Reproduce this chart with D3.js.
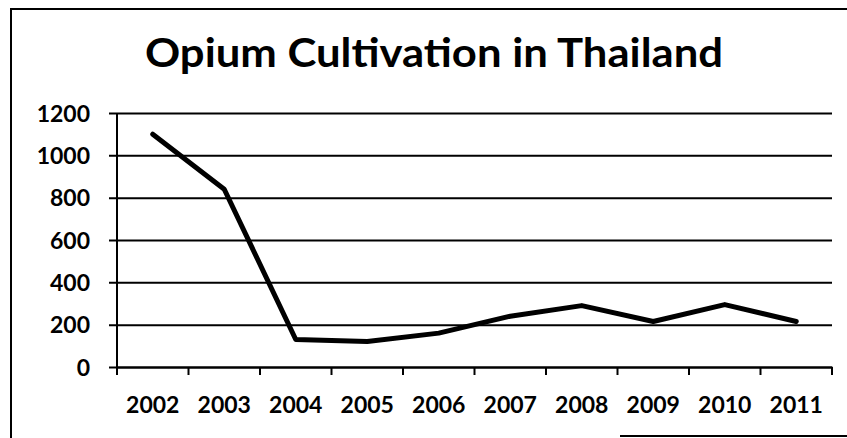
<!DOCTYPE html>
<html>
<head>
<meta charset="utf-8">
<script src="https://cdn.jsdelivr.net/npm/d3@7"></script>
<style>
  html, body { margin: 0; padding: 0; background: #fff; }
  svg { display: block; }
  text { font-family: Lato, "Open Sans", sans-serif; font-weight: bold; fill: #000; }
</style>
</head>
<body>
<svg id="chart" width="847" height="438"></svg>
<script>
const title = "Opium Cultivation in Thailand";
const years = ["2002","2003","2004","2005","2006","2007","2008","2009","2010","2011"];
const hectares = [1100, 840, 130, 120, 160, 240, 290, 215, 295, 215];
const yTicks = [0, 200, 400, 600, 800, 1000, 1200];

const W = 847, H = 438;
const svg = d3.select("#chart");
svg.append("rect").attr("width", W).attr("height", H).attr("fill", "#fff");

// outer frame (scan border)
svg.append("path")
  .attr("d", `M11,${H} L11,9 L${W},9`)
  .attr("fill", "none").attr("stroke", "#000").attr("stroke-width", 2);
svg.append("line").attr("x1", 620).attr("x2", W).attr("y1", 436).attr("y2", 436)
  .attr("stroke", "#000").attr("stroke-width", 2);

const m = { left: 117, right: 832, top: 113, bottom: 367 };

const x = d3.scaleBand().domain(years).range([m.left, m.right]).padding(0);
const y = d3.scaleLinear().domain([0, 1200]).range([m.bottom, m.top]);

// Title
svg.append("text")
  .attr("x", 434).attr("y", 67)
  .attr("text-anchor", "middle")
  .style("font-size", "40px")
  .attr("textLength", 578).attr("lengthAdjust", "spacingAndGlyphs")
  .text(title);

// gridlines + y ticks
const yAxis = d3.axisLeft(y).tickValues(yTicks).tickFormat(d3.format("d"))
  .tickSize(-(m.right - m.left)).tickPadding(27).tickSizeOuter(0);
const gy = svg.append("g").attr("transform", `translate(${m.left},0)`).call(yAxis);
gy.select(".domain").remove();
gy.selectAll(".tick line").attr("stroke", "#000").attr("stroke-width", 2).attr("x1", -8);
gy.selectAll(".tick text").style("font-size", "23px").attr("dy", "0.36em")
  .style("font-family", "Lato, sans-serif").style("font-weight", "bold");

// y axis line
svg.append("line").attr("x1", m.left).attr("x2", m.left).attr("y1", y(1200)).attr("y2", y(0))
  .attr("stroke", "#000").attr("stroke-width", 2);

// x axis
const xAxis = d3.axisBottom(x).tickSize(0).tickPadding(30);
const gx = svg.append("g").attr("transform", `translate(0,${m.bottom})`).call(xAxis);
gx.select(".domain").attr("stroke", "#000").attr("stroke-width", 2);
gx.selectAll(".tick text").style("font-size", "23px")
  .style("font-family", "Lato, sans-serif").style("font-weight", "bold");
// boundary ticks
const bounds = years.map(d => x(d)).concat([x(years[years.length - 1]) + x.bandwidth()]);
gx.selectAll(".btick").data(bounds).enter().append("line")
  .attr("class", "btick")
  .attr("x1", d => d).attr("x2", d => d).attr("y1", 0).attr("y2", 8)
  .attr("stroke", "#000").attr("stroke-width", 2);

// data line
const line = d3.line()
  .x((d, i) => x(years[i]) + x.bandwidth() / 2)
  .y(d => y(d));
svg.append("path").datum(hectares)
  .attr("d", line)
  .attr("fill", "none").attr("stroke", "#000").attr("stroke-width", 5)
  .attr("stroke-linejoin", "round").attr("stroke-linecap", "round");
</script>
</body>
</html>
